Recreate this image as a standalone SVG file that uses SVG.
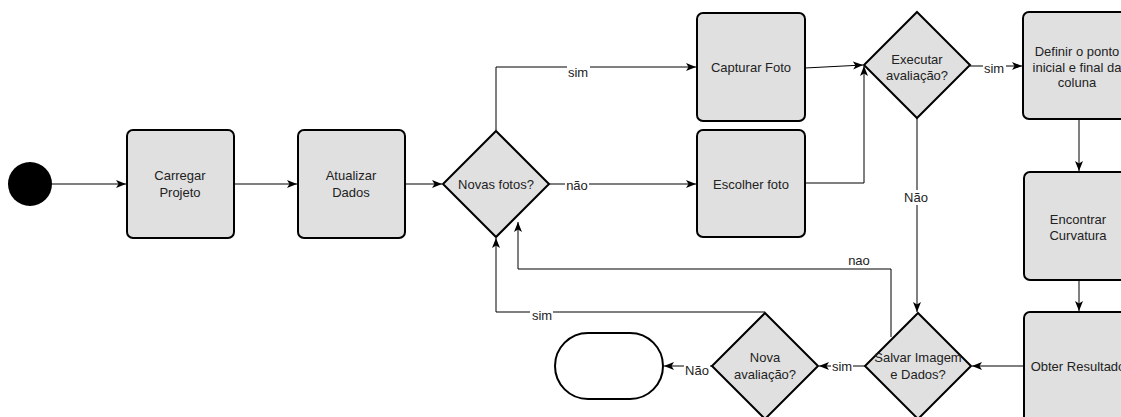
<svg xmlns="http://www.w3.org/2000/svg" width="1121" height="417" viewBox="0 0 1121 417">
<style>
.box{fill:#e0e0e0;stroke:#000;stroke-width:2}
.term{fill:#fff;stroke:#000;stroke-width:2}
.t{font-family:"Liberation Sans",Arial,sans-serif;font-size:13px;fill:#222;text-anchor:middle}
.c{fill:none;stroke:#000;stroke-width:1}
.lb{fill:#fff}
</style>
<defs>
<marker id="ah" viewBox="0 0 10 10" refX="10" refY="5" markerWidth="10" markerHeight="10" markerUnits="userSpaceOnUse" orient="auto">
<path d="M0,1 L10,5 L0,9 L2.5,5 Z" fill="#000"/>
</marker>
</defs>
<rect width="1121" height="417" fill="#fff"/>
<g id="connectors">
<path class="c" d="M52,184 H126" marker-end="url(#ah)"/>
<path class="c" d="M234,184 H297" marker-end="url(#ah)"/>
<path class="c" d="M405,184 H442" marker-end="url(#ah)"/>
<path class="c" d="M496,130 V67 H696" marker-end="url(#ah)"/>
<path class="c" d="M549,184 H696" marker-end="url(#ah)"/>
<path class="c" d="M805,68 L863,65" marker-end="url(#ah)"/>
<path class="c" d="M805,183 H864 V66" marker-end="url(#ah)"/>
<path class="c" d="M970,66 H1022" marker-end="url(#ah)"/>
<path class="c" d="M1079,119 V171" marker-end="url(#ah)"/>
<path class="c" d="M1079,280 V311" marker-end="url(#ah)"/>
<path class="c" d="M917,118 V312" marker-end="url(#ah)"/>
<path class="c" d="M1024,366 H972" marker-end="url(#ah)"/>
<path class="c" d="M891,337 V269 H518 V222" marker-end="url(#ah)"/>
<path class="c" d="M865,366 H819" marker-end="url(#ah)"/>
<path class="c" d="M765,312 H496 V238" marker-end="url(#ah)"/>
<path class="c" d="M712,366 H664" marker-end="url(#ah)"/>
<rect class="lb" x="567" y="65" width="23" height="14"/>
<text class="t" x="578" y="77">sim</text>
<rect class="lb" x="565" y="178" width="24" height="14"/>
<text class="t" x="577" y="190">não</text>
<rect class="lb" x="983" y="62" width="23" height="14"/>
<text class="t" x="994" y="73">sim</text>
<rect class="lb" x="903" y="190" width="26" height="15"/>
<text class="t" x="916" y="202">Não</text>
<text class="t" x="859" y="265">nao</text>
<rect class="lb" x="530" y="309" width="23" height="14"/>
<text class="t" x="542" y="320">sim</text>
<rect class="lb" x="831" y="360" width="22" height="13"/>
<text class="t" x="842" y="371">sim</text>
<rect class="lb" x="684" y="363" width="26" height="15"/>
<text class="t" x="697" y="375">Não</text>
</g>
<g id="start"><circle cx="30" cy="184" r="22" fill="#000"/></g>
<g id="carregar"><rect class="box" x="127" y="130" width="107" height="108" rx="6"/><text class="t" x="180" y="180">Carregar</text><text class="t" x="180" y="197">Projeto</text></g>
<g id="atualizar"><rect class="box" x="298" y="130" width="107" height="108" rx="6"/><text class="t" x="351" y="180">Atualizar</text><text class="t" x="351" y="197">Dados</text></g>
<g id="novas"><path class="box" d="M496,131 L549,184 L496,237 L443,184 Z"/><text class="t" x="496" y="189">Novas fotos?</text></g>
<g id="capturar"><rect class="box" x="697" y="13" width="108" height="108" rx="6"/><text class="t" x="751" y="72">Capturar Foto</text></g>
<g id="escolher"><rect class="box" x="697" y="130" width="108" height="107" rx="6"/><text class="t" x="751" y="189">Escolher foto</text></g>
<g id="executar"><path class="box" d="M917,12 L970,65 L917,118 L864,65 Z"/><text class="t" x="917" y="64">Executar</text><text class="t" x="917" y="80">avaliação?</text></g>
<g id="definir"><rect class="box" x="1023" y="12" width="108" height="107" rx="6"/><text class="t" x="1077" y="56">Definir o ponto</text><text class="t" x="1077" y="72">inicial e final da</text><text class="t" x="1077" y="87">coluna</text></g>
<g id="encontrar"><rect class="box" x="1024" y="172" width="108" height="108" rx="6"/><text class="t" x="1078" y="224">Encontrar</text><text class="t" x="1078" y="240">Curvatura</text></g>
<g id="obter"><rect class="box" x="1024" y="312" width="108" height="110" rx="6"/><text class="t" x="1078" y="371">Obter Resultado</text></g>
<g id="salvar"><path class="box" d="M918,313 L971,366 L918,419 L865,366 Z"/><text class="t" x="918" y="362">Salvar Imagem</text><text class="t" x="918" y="379">e Dados?</text></g>
<g id="nova"><path class="box" d="M765,313 L818,366 L765,419 L712,366 Z"/><text class="t" x="765" y="362">Nova</text><text class="t" x="765" y="379">avaliação?</text></g>
<g id="fim"><rect class="term" x="555" y="333" width="108" height="66" rx="33"/></g>
</svg>
